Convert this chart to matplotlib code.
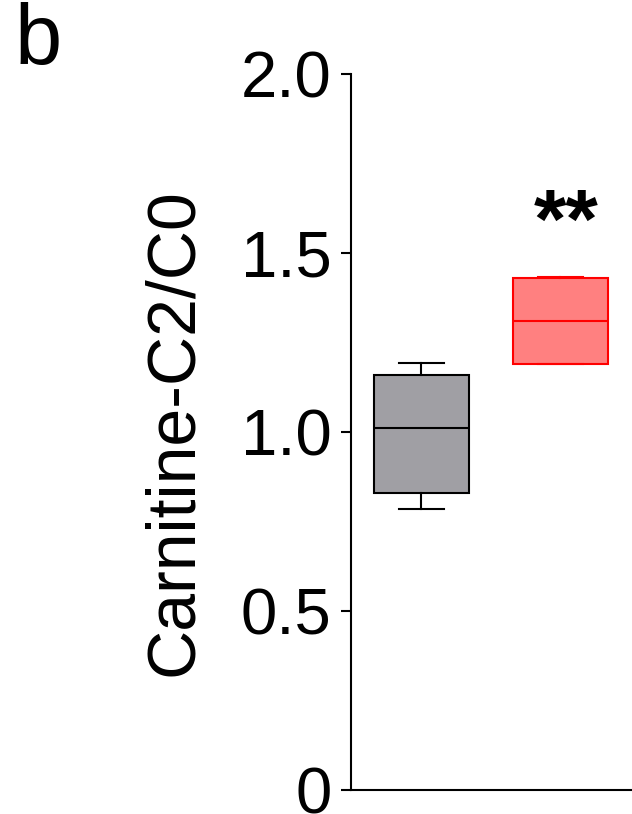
import matplotlib
matplotlib.use("Agg")
import matplotlib.pyplot as plt

plt.rcParams['font.family'] = ['Liberation Sans', 'DejaVu Sans']

groups = ["Control", "Treated"]
q1 = [0.83, 1.19]
median = [1.01, 1.31]
q3 = [1.16, 1.43]
whislo = [0.785, 1.19]
whishi = [1.193, 1.433]
face_colors = ["#a09fa4", "#ff8080"]
edge_colors = ["#000000", "#ff0000"]
yticks = [0, 0.5, 1.0, 1.5, 2.0]
ytick_labels = ["0", "0.5", "1.0", "1.5", "2.0"]
ylabel = "Carnitine-C2/C0"
signif = "**"
panel = "b"

fig = plt.figure(figsize=(6.32, 8.14), dpi=100)
ax = fig.add_axes([351/632, 24/814, 1 - 351/632, (790-74)/814])

stats = []
for i, g in enumerate(groups):
    stats.append(dict(label=g, q1=q1[i], med=median[i], q3=q3[i],
                      whislo=whislo[i], whishi=whishi[i], fliers=[]))

for i, s in enumerate(stats):
    ax.bxp([s], positions=[i + 1], widths=0.68, patch_artist=True,
           showfliers=False,
           boxprops=dict(facecolor=face_colors[i], edgecolor=edge_colors[i], linewidth=1.5),
           medianprops=dict(color=edge_colors[i], linewidth=1.5),
           whiskerprops=dict(color=edge_colors[i], linewidth=1.5),
           capprops=dict(color=edge_colors[i], linewidth=1.5),
           capwidths=0.33)

ax.set_xlim(0.493, 0.493 + 281/139)
ax.set_ylim(0, 2.0)
ax.set_yticks(yticks)
ax.set_yticklabels(ytick_labels)
ax.set_xticks([])
ax.spines['top'].set_visible(False)
ax.spines['right'].set_visible(False)
ax.spines['left'].set_linewidth(1.5)
ax.spines['bottom'].set_linewidth(1.5)
ax.tick_params(axis='y', direction='out', length=7.2, width=1.5, pad=7, labelsize=47)
ax.set_ylabel(ylabel, fontsize=49, labelpad=25)

ax.text(2.04, 1.515, signif, ha='center', va='baseline', fontsize=60, fontweight='bold')
fig.text(15/632, 1 - 2/814, panel, ha='left', va='top', fontsize=61)

fig.savefig("out.png", dpi=100)
